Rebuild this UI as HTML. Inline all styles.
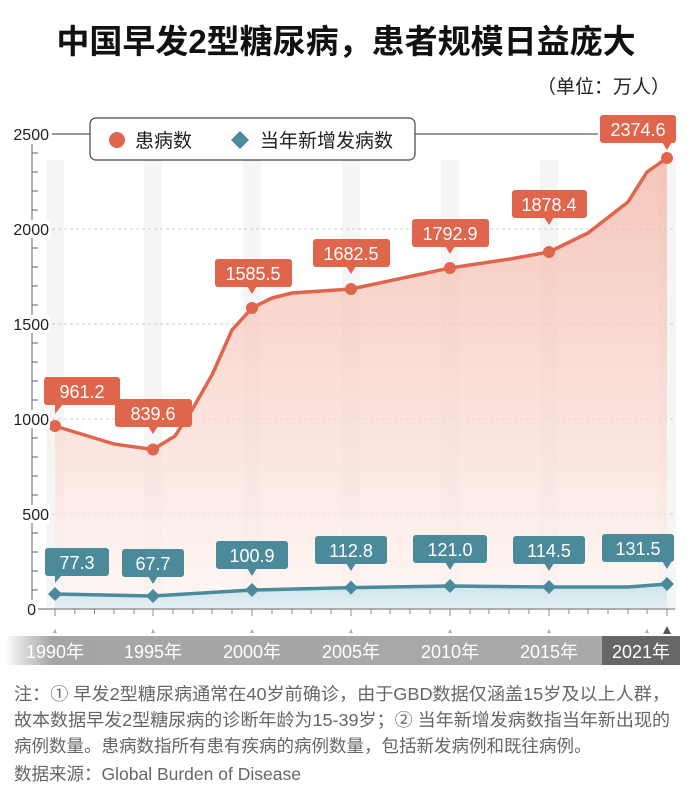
<!DOCTYPE html>
<html><head><meta charset="utf-8"><style>
body{margin:0;background:#fff;width:692px;height:801px;overflow:hidden;font-family:"Liberation Sans","Noto Sans CJK SC",sans-serif}
</style></head><body>
<svg width="692" height="801" viewBox="0 0 692 801" xmlns="http://www.w3.org/2000/svg" font-family="Liberation Sans, Noto Sans CJK SC, sans-serif">
<defs>
<linearGradient id="rf" x1="0" y1="0" x2="0" y2="1"><stop offset="0" stop-color="#f3b3a3"/><stop offset="1" stop-color="#fef5f2"/></linearGradient>
<linearGradient id="tf" x1="0" y1="0" x2="0" y2="1"><stop offset="0" stop-color="#cde3ea"/><stop offset="1" stop-color="#e4f0f4"/></linearGradient>
<linearGradient id="band" x1="0" y1="0" x2="1" y2="0"><stop offset="0" stop-color="#999" stop-opacity="0"/><stop offset="0.08" stop-color="#a5a5a5"/><stop offset="1" stop-color="#a9a9a9"/></linearGradient>
</defs>
<text x="346" y="53" text-anchor="middle" font-size="33" font-weight="bold" fill="#111">中国早发2型糖尿病，患者规模日益庞大</text>
<text x="670" y="93" text-anchor="end" font-size="19" fill="#222">（单位：万人）</text>
<g fill="#f4f6f6">
<rect x="46" y="160" width="18" height="449"/><rect x="144" y="160" width="18" height="449"/><rect x="243" y="160" width="18" height="449"/><rect x="342" y="160" width="18" height="449"/><rect x="441" y="160" width="18" height="449"/><rect x="540" y="160" width="18" height="449"/><rect x="658" y="160" width="18" height="449"/>
</g>
<g stroke="#ccc" stroke-dasharray="3,3"><line x1="52" y1="229" x2="675" y2="229"/><line x1="52" y1="324" x2="675" y2="324"/><line x1="52" y1="419" x2="675" y2="419"/><line x1="52" y1="514" x2="675" y2="514"/></g>
<path d="M55,426 L114,444 L153,449.5 L175,436 L192,410 L212,375 L232,330 L252,308 L272,298 L292,293 L351,289 L450,268 L510,259 L549,252 L588,233 L628,202 L647,172 L667,158 L667,609 L55,609Z" fill="url(#rf)" opacity="0.75"/>
<polyline points="55,426 114,444 153,449.5 175,436 192,410 212,375 232,330 252,308 272,298 292,293 351,289 450,268 510,259 549,252 588,233 628,202 647,172 667,158" fill="none" stroke="#e0654d" stroke-width="3.5" stroke-linejoin="round"/>
<path d="M55,594 L153,596 L252,590 L351,587.6 L450,586 L549,587 L628,587 L667,584 L667,609 L55,609Z" fill="url(#tf)"/>
<polyline points="55,594 153,596 252,590 351,587.6 450,586 549,587 628,587 667,584" fill="none" stroke="#4a8a9b" stroke-width="3.5" stroke-linejoin="round"/>
<g fill="#e0654d"><circle cx="55" cy="426" r="6"/><circle cx="153" cy="449.5" r="6"/><circle cx="252" cy="308" r="6"/><circle cx="351" cy="289" r="6"/><circle cx="450" cy="268" r="6"/><circle cx="549" cy="252" r="6"/><circle cx="667" cy="158" r="6"/></g>
<g fill="#4a8a9b"><path d="M55,587l7,7-7,7-7-7z"/><path d="M153,589l7,7-7,7-7-7z"/><path d="M252,583l7,7-7,7-7-7z"/><path d="M351,580.6l7,7-7,7-7-7z"/><path d="M450,579l7,7-7,7-7-7z"/><path d="M549,580l7,7-7,7-7-7z"/><path d="M667,577l7,7-7,7-7-7z"/></g>
<!-- axis -->
<line x1="32" y1="144" x2="32" y2="609" stroke="#666" stroke-width="1"/>
<line x1="32" y1="609" x2="675" y2="609" stroke="#666"/>
<g stroke="#666">
<line x1="32" y1="153" x2="38" y2="153"/><line x1="32" y1="172" x2="38" y2="172"/><line x1="32" y1="191" x2="38" y2="191"/><line x1="32" y1="210" x2="38" y2="210"/>
<line x1="32" y1="248" x2="38" y2="248"/><line x1="32" y1="267" x2="38" y2="267"/><line x1="32" y1="286" x2="38" y2="286"/><line x1="32" y1="305" x2="38" y2="305"/>
<line x1="32" y1="343" x2="38" y2="343"/><line x1="32" y1="362" x2="38" y2="362"/><line x1="32" y1="381" x2="38" y2="381"/><line x1="32" y1="400" x2="38" y2="400"/>
<line x1="32" y1="438" x2="38" y2="438"/><line x1="32" y1="457" x2="38" y2="457"/><line x1="32" y1="476" x2="38" y2="476"/><line x1="32" y1="495" x2="38" y2="495"/>
<line x1="32" y1="533" x2="38" y2="533"/><line x1="32" y1="552" x2="38" y2="552"/><line x1="32" y1="571" x2="38" y2="571"/><line x1="32" y1="590" x2="38" y2="590"/>
</g>
<g fill="#fff"><rect x="10" y="125" width="40" height="18"/><rect x="10" y="220" width="40" height="18"/><rect x="10" y="315" width="40" height="18"/><rect x="10" y="410" width="40" height="18"/><rect x="10" y="505" width="40" height="18"/><rect x="24" y="600" width="14" height="18"/></g>
<g font-size="16" fill="#222" text-anchor="end"><text x="49" y="140">2500</text><text x="49" y="235">2000</text><text x="49" y="330">1500</text><text x="49" y="425">1000</text><text x="49" y="520">500</text><text x="36" y="615">0</text></g>
<g stroke="#888"><line x1="55" y1="609" x2="55" y2="616"/><line x1="74.8" y1="609" x2="74.8" y2="614"/><line x1="94.5" y1="609" x2="94.5" y2="614"/><line x1="114" y1="609" x2="114" y2="614"/><line x1="134" y1="609" x2="134" y2="614"/><line x1="153" y1="609" x2="153" y2="616"/><line x1="173" y1="609" x2="173" y2="614"/><line x1="193" y1="609" x2="193" y2="614"/><line x1="212" y1="609" x2="212" y2="614"/><line x1="232" y1="609" x2="232" y2="614"/><line x1="252" y1="609" x2="252" y2="616"/><line x1="272" y1="609" x2="272" y2="614"/><line x1="292" y1="609" x2="292" y2="614"/><line x1="311" y1="609" x2="311" y2="614"/><line x1="331" y1="609" x2="331" y2="614"/><line x1="351" y1="609" x2="351" y2="616"/><line x1="371" y1="609" x2="371" y2="614"/><line x1="390" y1="609" x2="390" y2="614"/><line x1="410" y1="609" x2="410" y2="614"/><line x1="430" y1="609" x2="430" y2="614"/><line x1="450" y1="609" x2="450" y2="616"/><line x1="470" y1="609" x2="470" y2="614"/><line x1="489" y1="609" x2="489" y2="614"/><line x1="509" y1="609" x2="509" y2="614"/><line x1="529" y1="609" x2="529" y2="614"/><line x1="549" y1="609" x2="549" y2="616"/><line x1="569" y1="609" x2="569" y2="614"/><line x1="588" y1="609" x2="588" y2="614"/><line x1="608" y1="609" x2="608" y2="614"/><line x1="628" y1="609" x2="628" y2="614"/><line x1="647" y1="609" x2="647" y2="614"/><line x1="667" y1="609" x2="667" y2="616"/></g>
<!-- legend -->
<line x1="52" y1="134" x2="90" y2="134" stroke="#333"/>
<line x1="415" y1="134" x2="598" y2="134" stroke="#333"/>
<rect x="90" y="118" width="325" height="42" rx="6" fill="#fff" stroke="#444" stroke-width="1.2"/>
<circle cx="117" cy="140" r="8" fill="#e0654d"/>
<text x="135" y="147" font-size="19" fill="#222">患病数</text>
<path d="M240,131l9,9-9,9-9-9z" fill="#4a8a9b"/>
<text x="260" y="147" font-size="19" fill="#222">当年新增发病数</text>
<!-- red labels -->
<g fill="#e0654d">
<rect x="44" y="377" width="76" height="28" rx="3"/><path d="M55,404l0,10 8,-10z"/>
<rect x="115" y="399" width="77" height="28" rx="3"/><path d="M148,426l5,8 5,-8z"/>
<rect x="215" y="259" width="77" height="28" rx="3"/><path d="M247,286l5,8 5,-8z"/>
<rect x="313" y="239" width="77" height="28" rx="3"/><path d="M346,266l5,8 5,-8z"/>
<rect x="412" y="219" width="77" height="28" rx="3"/><path d="M445,246l5,8 5,-8z"/>
<rect x="512" y="190" width="75" height="28" rx="3"/><path d="M544,217l5,8 5,-8z"/>
<rect x="600" y="115" width="76" height="28" rx="3"/><path d="M662,142l5,8 5,-8z"/>
</g>
<g fill="#fff" font-size="18" text-anchor="middle">
<text x="82" y="398">961.2</text><text x="153" y="420">839.6</text><text x="253" y="280">1585.5</text><text x="351" y="260">1682.5</text><text x="450" y="240">1792.9</text><text x="549" y="211">1878.4</text><text x="638" y="136">2374.6</text>
</g>
<!-- teal labels -->
<g fill="#4a8a9b">
<rect x="45" y="548" width="64" height="28" rx="3"/><path d="M55,575l0,8 7,-8z"/>
<rect x="122" y="549" width="62" height="28" rx="3"/><path d="M148,576l5,8 5,-8z"/>
<rect x="216" y="541" width="72" height="28" rx="3"/><path d="M247,568l5,8 5,-8z"/>
<rect x="315" y="536" width="72" height="28" rx="3"/><path d="M346,563l5,8 5,-8z"/>
<rect x="413" y="535" width="74" height="28" rx="3"/><path d="M445,562l5,8 5,-8z"/>
<rect x="513" y="536" width="72" height="28" rx="3"/><path d="M544,563l5,8 5,-8z"/>
<rect x="602" y="534" width="72" height="28" rx="3"/><path d="M662,561l5,8 5,-8z"/>
</g>
<g fill="#fff" font-size="18" text-anchor="middle">
<text x="77" y="569">77.3</text><text x="153" y="570">67.7</text><text x="252" y="562">100.9</text><text x="351" y="557">112.8</text><text x="450" y="556">121.0</text><text x="549" y="557">114.5</text><text x="638" y="555">131.5</text>
</g>
<!-- x band -->
<g fill="#aaa"><path d="M53,633l2,-4 2,4z"/><path d="M151,633l2,-4 2,4z"/><path d="M250,633l2,-4 2,4z"/><path d="M349,633l2,-4 2,4z"/><path d="M448,633l2,-4 2,4z"/><path d="M547,633l2,-4 2,4z"/><path d="M645,633l2,-4 2,4z"/></g>
<path d="M663,634l4,-8 4,8z" fill="#555"/>
<rect x="5" y="636" width="597" height="29" fill="url(#band)"/>
<rect x="602" y="636" width="78" height="29" fill="#666"/>
<g fill="#fff" font-size="18" text-anchor="middle"><text x="55" y="658">1990年</text><text x="153" y="658">1995年</text><text x="252" y="658">2000年</text><text x="351" y="658">2005年</text><text x="450" y="658">2010年</text><text x="549" y="658">2015年</text><text x="641" y="658">2021年</text></g>
<!-- notes -->
<g font-size="17.5" fill="#666">
<text x="14" y="700" textLength="656" lengthAdjust="spacingAndGlyphs">注：① 早发2型糖尿病通常在40岁前确诊，由于GBD数据仅涵盖15岁及以上人群，</text>
<text x="14" y="726" textLength="656" lengthAdjust="spacingAndGlyphs">故本数据早发2型糖尿病的诊断年龄为15-39岁；② 当年新增发病数指当年新出现的</text>
<text x="14" y="752">病例数量。患病数指所有患有疾病的病例数量，包括新发病例和既往病例。</text>
<text x="14" y="780">数据来源：Global Burden of Disease</text>
</g>
</svg>
</body></html>
